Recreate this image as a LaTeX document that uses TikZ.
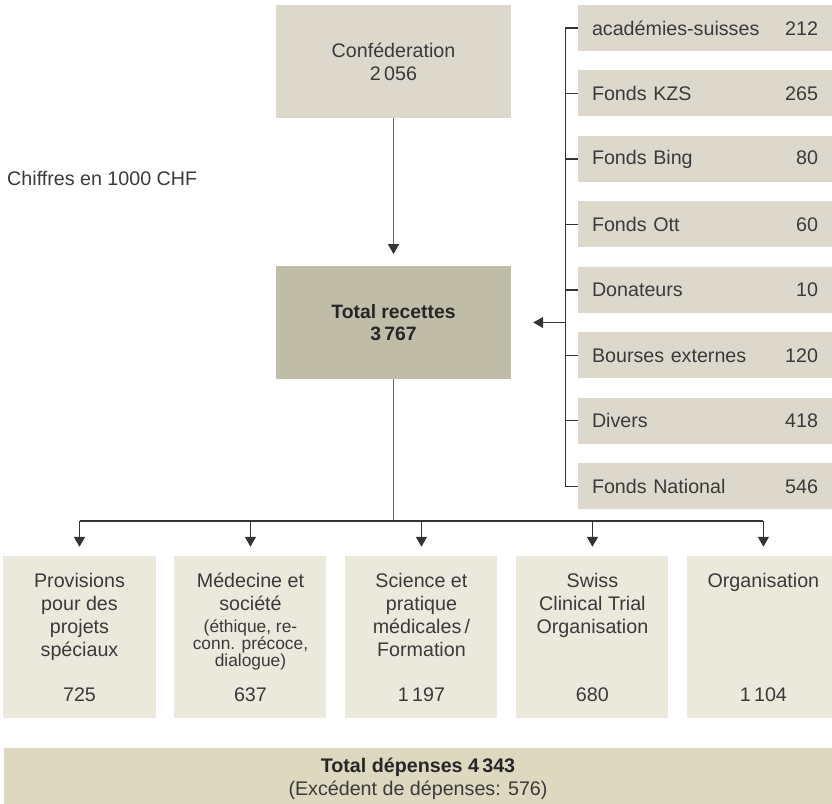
\documentclass[tikz,border=0pt]{standalone}
\usepackage{fontspec}
\setmainfont{Liberation Sans}
\usepackage{xcolor}
\usepackage{tikz}
\usetikzlibrary{arrows.meta,positioning}

\definecolor{inkgrey}{HTML}{3A3A3A}
\definecolor{linegrey}{HTML}{333333}
\definecolor{srcfill}{HTML}{DCD9CC}
\definecolor{sumfill}{HTML}{BFBCA8}
\definecolor{usefill}{HTML}{EBE8DC}
\definecolor{barfill}{HTML}{DDD8C0}

\begin{document}
\begin{tikzpicture}
    [
    x=0.3mm, y=-0.3mm,
    every node/.style = {text=inkgrey, font=\fontsize{16.8}{19.6}\selectfont, inner sep=0pt},
    srcbox/.style = {fill=srcfill, minimum width=70.5mm, minimum height=33.9mm, align=center},
    sumbox/.style = {fill=sumfill, minimum width=70.5mm, minimum height=33.9mm, align=center, text=black!85, font=\fontsize{16.5}{18.5}\selectfont\bfseries},
    rowbox/.style = {fill=srcfill, minimum width=76.2mm, minimum height=13.8mm, text width=67.8mm, align=left},
    usebox/.style = {fill=usefill, minimum width=45.6mm, minimum height=48.6mm},
    usetitle/.style = {align=center},
    link/.style = {draw=linegrey, line width=0.4mm},
    arrow/.style = {link, -{Triangle[length=3mm, width=3.3mm, color=linegrey]}}
    ]

    \useasboundingbox (0,0) rectangle (832,803);

% Income side
    \node[srcbox] (conf) at (393.5,61.5) {Conféderation\\2\,056};
    \node[sumbox] (total) at (393.5,322.5) {Total recettes\\3\,767};
    \node[anchor=west] (unit) at (7,178) {Chiffres en 1000 CHF};

    \node[rowbox] (r1) at (705,28) {académies-suisses\hfill 212};
    \node[rowbox, below=5.7mm of r1] (r2) {Fonds KZS\hfill 265};
    \node[rowbox, below=5.7mm of r2] (r3) {Fonds Bing\hfill 80};
    \node[rowbox, below=5.7mm of r3] (r4) {Fonds Ott\hfill 60};
    \node[rowbox, below=5.7mm of r4] (r5) {Donateurs\hfill 10};
    \node[rowbox, below=5.7mm of r5] (r6) {Bourses externes\hfill 120};
    \node[rowbox, below=5.7mm of r6] (r7) {Divers\hfill 418};
    \node[rowbox, below=5.7mm of r7] (r8) {Fonds National\hfill 546};

% Expense side
    \node[usebox] (b1) at (79.5,637) {};
    \node[usebox, right=5.55mm of b1] (b2) {};
    \node[usebox, right=5.55mm of b2] (b3) {};
    \node[usebox, right=5.55mm of b3] (b4) {};
    \node[usebox, right=5.55mm of b4] (b5) {};

    \node[usetitle, below=5.2mm of b1.north] (t1) {Provisions\\pour des\\projets\\spéciaux};
    \node[usetitle, below=5.2mm of b2.north] (t2) {Médecine et\\société\\[-1pt]{\fontsize{14.8}{15}\selectfont(éthique, re-}\\[-5pt]{\fontsize{14.8}{15}\selectfont conn. précoce,}\\[-5pt]{\fontsize{14.8}{15}\selectfont dialogue)}};
    \node[usetitle, below=5.2mm of b3.north] (t3) {Science et\\pratique\\médicales\,/\\Formation};
    \node[usetitle, below=5.2mm of b4.north] (t4) {Swiss\\Clinical Trial\\Organisation};
    \node[usetitle, below=5.2mm of b5.north] (t5) {Organisation};

    \node[above=4.8mm of b1.south] (n1) {725};
    \node[above=4.8mm of b2.south] (n2) {637};
    \node[above=4.8mm of b3.south] (n3) {1\,197};
    \node[above=4.8mm of b4.south] (n4) {680};
    \node[above=4.8mm of b5.south] (n5) {1\,104};

    \node[fill=barfill, minimum width=248.4mm, minimum height=18.3mm, align=center] (bar) at (418,778.5)
        {\textbf{\color{black!85}Total dépenses 4\,343}\\(Excédent de dépenses: 576)};

% Connectors
    \coordinate (brk) at ([xshift=-3.6mm]r1.west);
    \coordinate (hub) at (393.5,521);

    \draw[arrow, draw=black!60, shorten >=3.5mm] (conf) -- (total);
    \draw[link] (r1.west) -- (brk) -- (brk |- r8.west) -- (r8.west);
    \foreach \n in {r2,r3,r4,r5,r6,r7}
        \draw[link] (\n.west) -- (brk |- \n.west);
    \draw[arrow, shorten >=6.6mm] (brk |- total.east) -- (total.east);

    \draw[link, draw=black!60] (total) -- (hub);
    \draw[link] (b1 |- hub) -- (b5 |- hub);
    \foreach \b in {b1,b2,b3,b4,b5}
        \draw[arrow, shorten >=2.7mm] (\b |- hub) -- (\b.north);

\end{tikzpicture}
\end{document}
